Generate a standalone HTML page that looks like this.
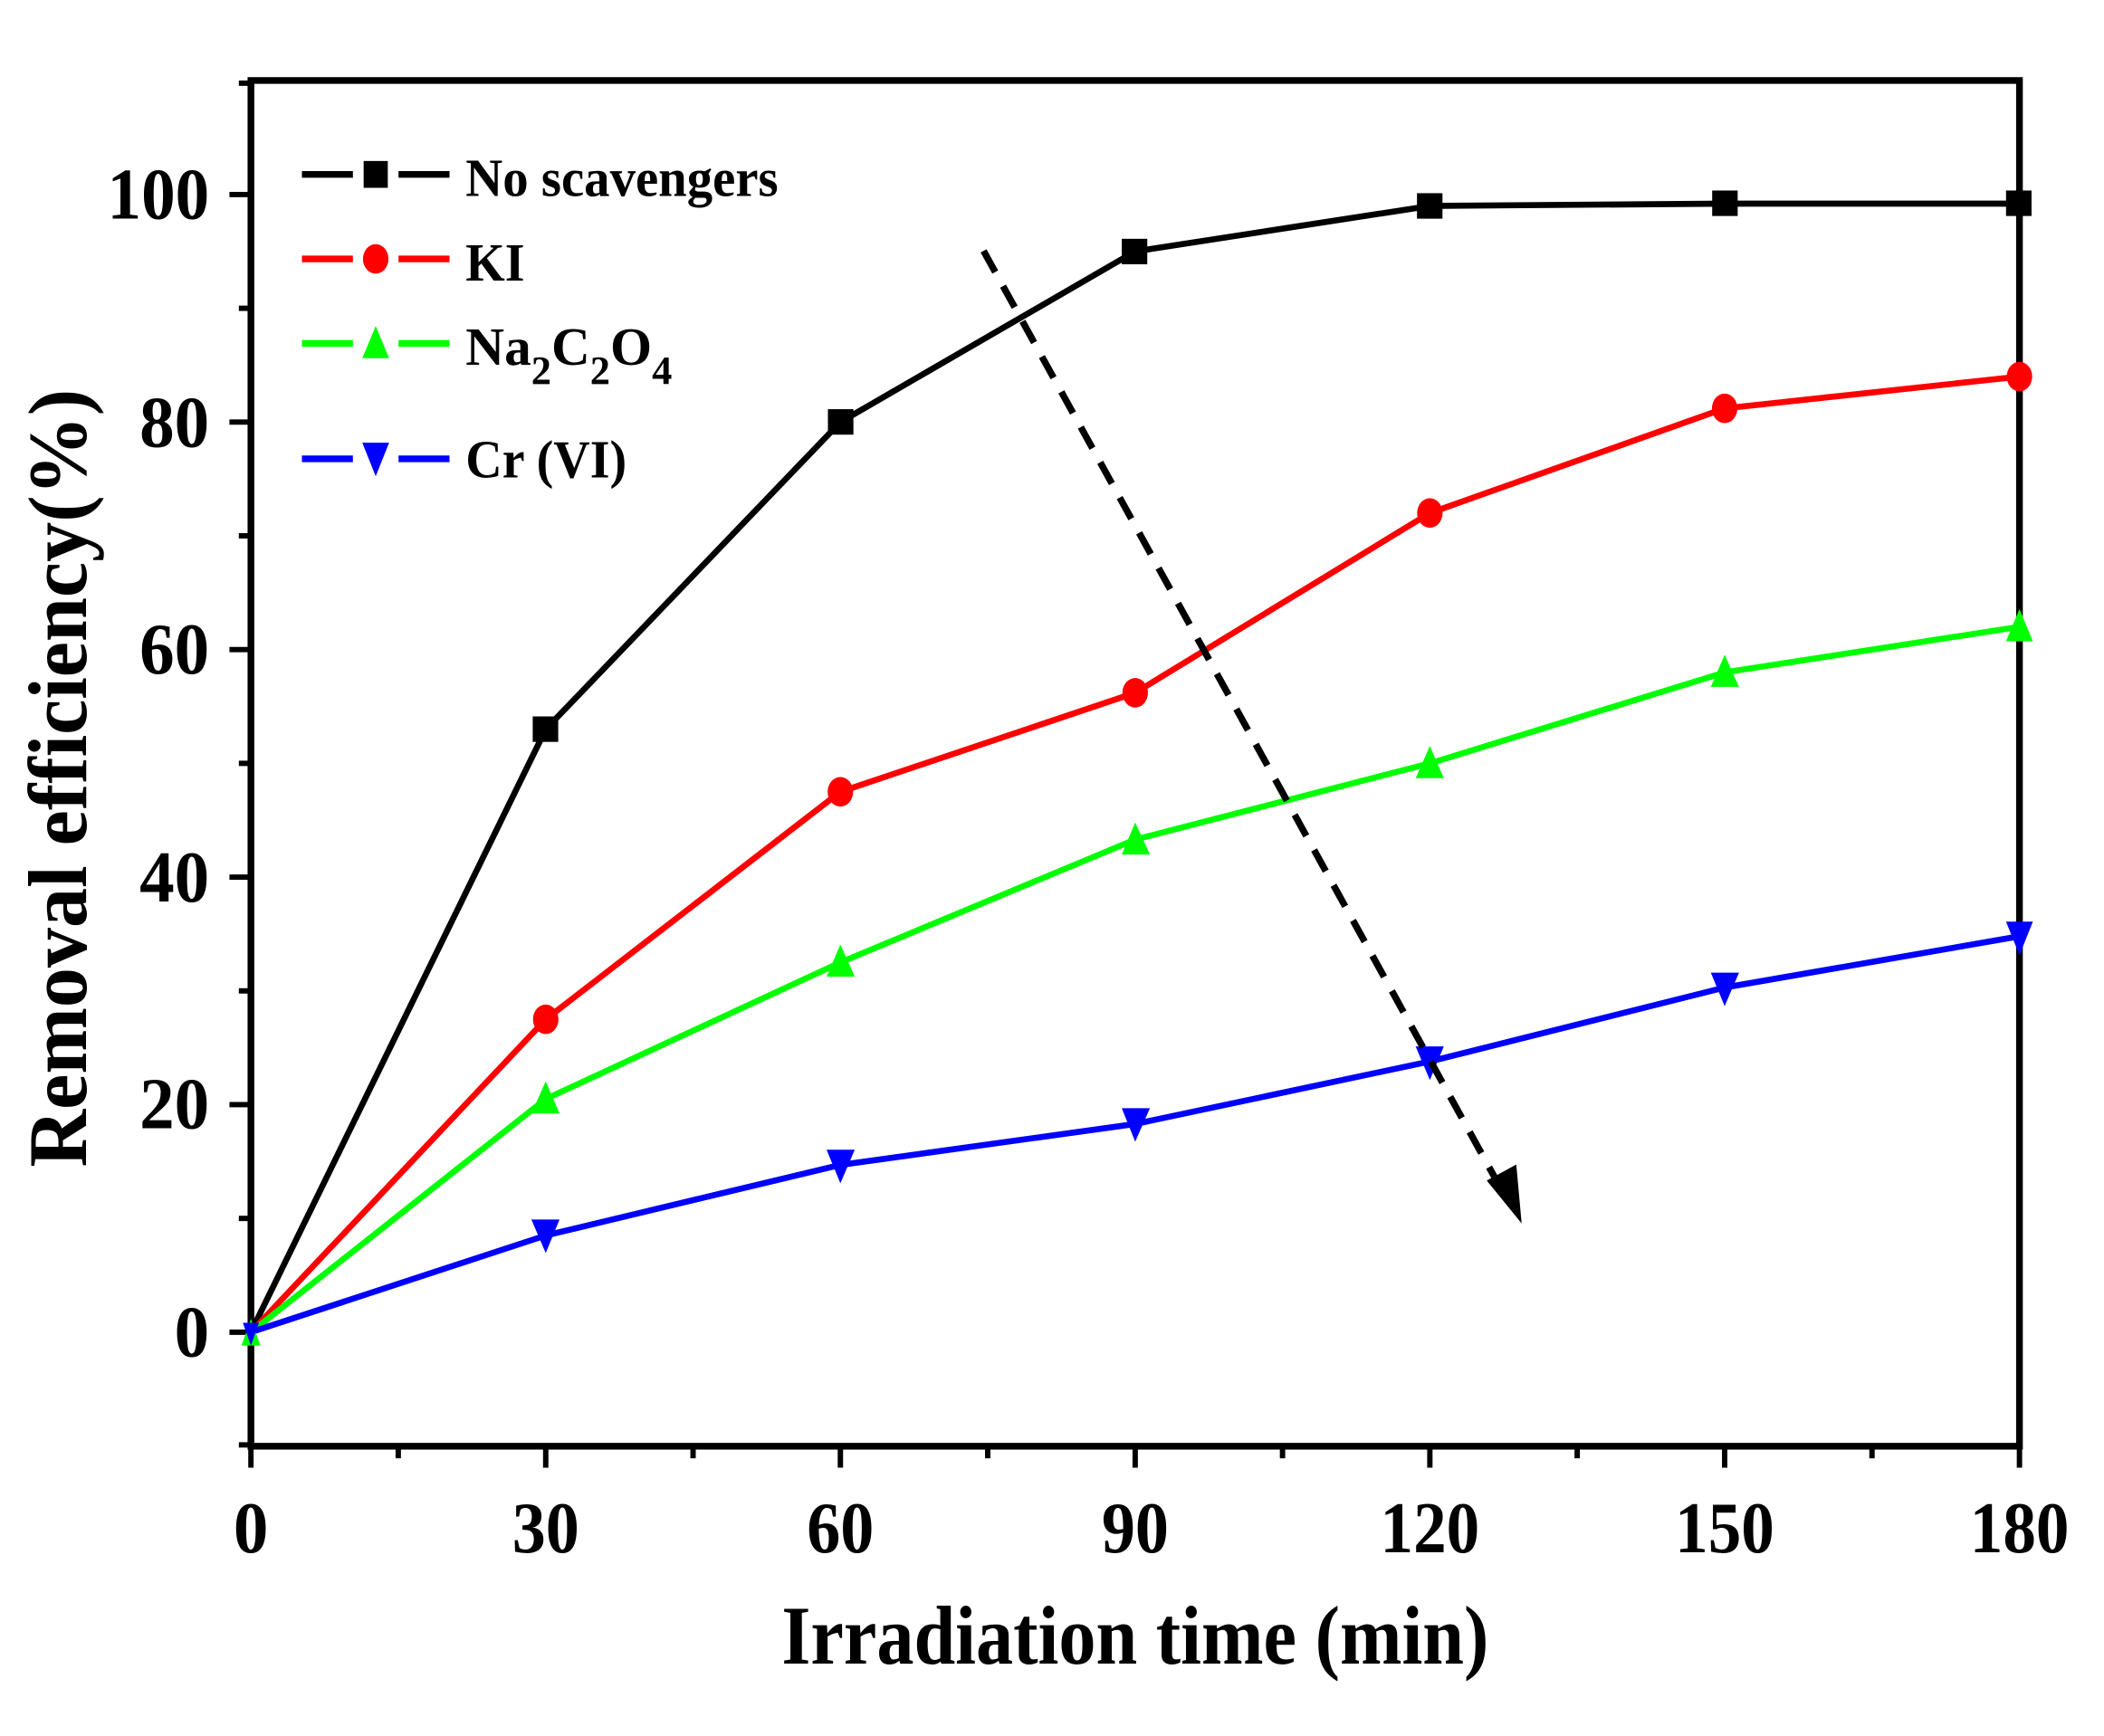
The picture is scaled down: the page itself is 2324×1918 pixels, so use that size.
<!DOCTYPE html>
<html><head><meta charset="utf-8"><style>
html,body{margin:0;padding:0;background:#fff}
svg{display:block}
text{font-family:"Liberation Serif",serif;font-weight:bold;fill:#000}
</style></head><body>
<svg width="2324" height="1918" viewBox="0 0 1568 1294" preserveAspectRatio="none" xmlns="http://www.w3.org/2000/svg">
<rect width="1568" height="1294" fill="#fff"/>
<rect x="187" y="60" width="1318" height="1018" fill="none" stroke="#000" stroke-width="5"/>
<g stroke="#000" stroke-width="4">
<line x1="187" y1="1078" x2="187" y2="1094"/><line x1="406.7" y1="1078" x2="406.7" y2="1094"/>
<line x1="626.3" y1="1078" x2="626.3" y2="1094"/><line x1="846" y1="1078" x2="846" y2="1094"/>
<line x1="1065.6" y1="1078" x2="1065.6" y2="1094"/><line x1="1285.3" y1="1078" x2="1285.3" y2="1094"/>
<line x1="1505" y1="1078" x2="1505" y2="1094"/>
<line x1="296.8" y1="1078" x2="296.8" y2="1087"/><line x1="516.5" y1="1078" x2="516.5" y2="1087"/>
<line x1="736.1" y1="1078" x2="736.1" y2="1087"/><line x1="955.8" y1="1078" x2="955.8" y2="1087"/>
<line x1="1175.4" y1="1078" x2="1175.4" y2="1087"/><line x1="1395.1" y1="1078" x2="1395.1" y2="1087"/>
<line x1="187" y1="993" x2="171" y2="993"/><line x1="187" y1="823.4" x2="171" y2="823.4"/>
<line x1="187" y1="653.8" x2="171" y2="653.8"/><line x1="187" y1="484.2" x2="171" y2="484.2"/>
<line x1="187" y1="314.6" x2="171" y2="314.6"/><line x1="187" y1="145" x2="171" y2="145"/>
<line x1="187" y1="1077" x2="178" y2="1077"/><line x1="187" y1="908.2" x2="178" y2="908.2"/>
<line x1="187" y1="738.6" x2="178" y2="738.6"/><line x1="187" y1="569" x2="178" y2="569"/>
<line x1="187" y1="399.4" x2="178" y2="399.4"/><line x1="187" y1="229.8" x2="178" y2="229.8"/>
<line x1="187" y1="62" x2="178" y2="62"/>
</g>
<g font-size="54" text-anchor="middle">
<text x="187" y="1157" textLength="26" lengthAdjust="spacingAndGlyphs">0</text>
<text x="406.7" y="1157" textLength="50" lengthAdjust="spacingAndGlyphs">30</text>
<text x="626.3" y="1157" textLength="50" lengthAdjust="spacingAndGlyphs">60</text>
<text x="846" y="1157" textLength="50" lengthAdjust="spacingAndGlyphs">90</text>
<text x="1065.6" y="1157" textLength="74" lengthAdjust="spacingAndGlyphs">120</text>
<text x="1285.3" y="1157" textLength="74" lengthAdjust="spacingAndGlyphs">150</text>
<text x="1505" y="1157" textLength="74" lengthAdjust="spacingAndGlyphs">180</text>
</g>
<g font-size="54" text-anchor="end">
<text x="156" y="1011" textLength="26" lengthAdjust="spacingAndGlyphs">0</text>
<text x="156" y="841" textLength="52" lengthAdjust="spacingAndGlyphs">20</text>
<text x="156" y="672" textLength="52" lengthAdjust="spacingAndGlyphs">40</text>
<text x="156" y="502" textLength="52" lengthAdjust="spacingAndGlyphs">60</text>
<text x="156" y="333" textLength="52" lengthAdjust="spacingAndGlyphs">80</text>
<text x="156" y="163" textLength="76" lengthAdjust="spacingAndGlyphs">100</text>
</g>
<text x="846" y="1240" font-size="62" text-anchor="middle" textLength="527" lengthAdjust="spacingAndGlyphs">Irradiation time (min)</text>
<text transform="translate(64,580) rotate(-90)" font-size="62" text-anchor="middle" textLength="580" lengthAdjust="spacingAndGlyphs">Removal efficiency(%)</text>
<g fill="none" stroke-width="4.5" stroke-linejoin="round">
<polyline stroke="#000" points="187,993 406.7,543.6 626.3,314.6 846,187.4 1065.6,153.5 1285.3,151.8 1505,151.8"/>
<polyline stroke="#f00" points="187,993 406.7,759.8 626.3,590.2 846,516.4 1065.6,382.4 1285.3,304.4 1505,280.7"/>
<polyline stroke="#0f0" points="187,993 406.7,819.2 626.3,717.4 846,625.8 1065.6,569 1285.3,501.2 1505,467.2"/>
<polyline stroke="#00f" points="187,993 406.7,920.9 626.3,868.3 846,837.8 1065.6,791.2 1285.3,736.1 1505,697.9"/>
</g>
<g fill="#000">
<rect x="397" y="534" width="19" height="19"/><rect x="617" y="305" width="19" height="19"/>
<rect x="836" y="178" width="19" height="19"/><rect x="1056" y="144" width="19" height="19"/>
<rect x="1276" y="142" width="19" height="19"/><rect x="1495" y="142" width="19" height="19"/>
</g>
<g fill="#f00">
<ellipse cx="406.7" cy="759.8" rx="9.5" ry="11"/><ellipse cx="626.3" cy="590.2" rx="9.5" ry="11"/>
<ellipse cx="846" cy="516.4" rx="9.5" ry="11"/><ellipse cx="1065.6" cy="382.4" rx="9.5" ry="11"/>
<ellipse cx="1285.3" cy="304.4" rx="9.5" ry="11"/><ellipse cx="1505" cy="280.7" rx="9.5" ry="11"/>
</g>
<g fill="#0f0">
<polygon points="406.7,806 396,830 417,830"/><polygon points="626.3,704 616,728 637,728"/>
<polygon points="846,613 836,637 857,637"/><polygon points="1065.6,556 1055,580 1076,580"/>
<polygon points="1285.3,488 1275,512 1296,512"/><polygon points="1505,454 1495,478 1515,478"/>
<polygon points="187,983 180,1003 194,1003"/>
</g>
<g fill="#00f">
<polygon points="396,909 417,909 406.7,934"/><polygon points="616,857 637,857 626.3,882"/>
<polygon points="836,826 857,826 846,851"/><polygon points="1055,780 1076,780 1065.6,805"/>
<polygon points="1275,725 1296,725 1285.3,750"/><polygon points="1495,687 1515,687 1505,712"/>
<polygon points="181,986 193,986 187,1003"/>
</g>
<line x1="733" y1="187" x2="1118" y2="885" stroke="#000" stroke-width="5" stroke-dasharray="18,12"/>
<polygon points="1108,880 1130,868 1134,912" fill="#000"/>
<g stroke-width="5">
<line x1="225" y1="130" x2="335" y2="130" stroke="#000" stroke-dasharray="38,34,38"/>
<line x1="225" y1="193" x2="335" y2="193" stroke="#f00" stroke-dasharray="38,34,38"/>
<line x1="225" y1="256" x2="335" y2="256" stroke="#0f0" stroke-dasharray="38,34,38"/>
<line x1="225" y1="342" x2="335" y2="342" stroke="#00f" stroke-dasharray="38,34,38"/>
</g>
<rect x="271" y="120" width="18" height="20" fill="#000"/>
<ellipse cx="280" cy="193" rx="9.5" ry="11" fill="#f00"/>
<polygon points="280,243 270,267 290,267" fill="#0f0"/>
<polygon points="270,330 290,330 280,355" fill="#00f"/>
<g font-size="40">
<text x="347" y="146" textLength="233" lengthAdjust="spacingAndGlyphs">No scavengers</text>
<text x="347" y="209" textLength="44" lengthAdjust="spacingAndGlyphs">KI</text>
<text x="347" y="272">Na<tspan font-size="30" dy="14">2</tspan><tspan dy="-14">C</tspan><tspan font-size="30" dy="14">2</tspan><tspan dy="-14">O</tspan><tspan font-size="30" dy="14">4</tspan></text>
<text x="347" y="356" textLength="120" lengthAdjust="spacingAndGlyphs">Cr (VI)</text>
</g>
</svg>
</body></html>
